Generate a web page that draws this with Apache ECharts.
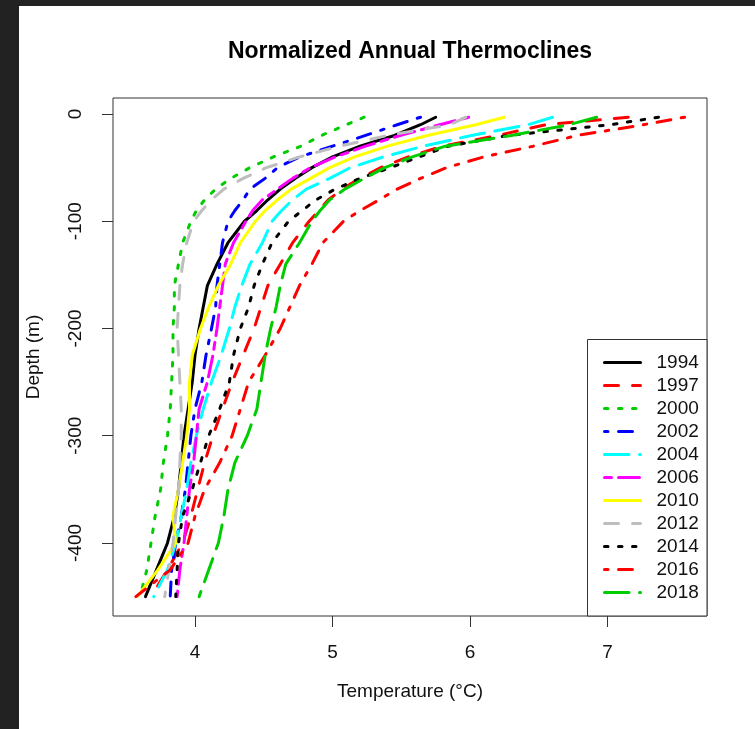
<!DOCTYPE html>
<html><head><meta charset="utf-8">
<script src="https://cdn.jsdelivr.net/npm/echarts@6/dist/echarts.min.js"></script>
<style>html,body{margin:0;padding:0;background:#fff}#c{width:755px;height:729px}</style>
</head><body><div id="c"></div>
<script>
// ---- data ----
const depths = [-3, -10, -20, -30, -40, -50, -60, -70, -80, -90, -100, -120, -140, -160, -180, -200, -225, -250, -275, -300, -325, -350, -375, -400, -425, -450];
const years = ['1994', '1997', '2000', '2002', '2004', '2006', '2010', '2012', '2014', '2016', '2018'];
const t1994 = [5.75, 5.64, 5.45, 5.20, 5.00, 4.85, 4.73, 4.62, 4.53, 4.45, 4.36, 4.24, 4.16, 4.09, 4.06, 4.03, 4.00, 3.98, 3.95, 3.92, 3.90, 3.88, 3.85, 3.80, 3.72, 3.64];
const t1997 = [7.15, 6.55, 6.20, 5.80, 5.55, 5.35, 5.20, 5.07, 4.97, 4.90, 4.83, 4.71, 4.62, 4.53, 4.48, 4.43, 4.35, 4.27, 4.20, 4.13, 4.07, 4.02, 3.97, 3.91, 3.80, 3.68];
const t2000 = [5.23, 5.10, 4.92, 4.77, 4.57, 4.40, 4.26, 4.15, 4.07, 4.01, 3.97, 3.91, 3.88, 3.85, 3.85, 3.84, 3.84, 3.83, 3.82, 3.80, 3.77, 3.75, 3.71, 3.68, 3.65, 3.60];
const t2002 = [5.64, 5.47, 5.24, 5.00, 4.76, 4.60, 4.51, 4.40, 4.35, 4.29, 4.24, 4.20, 4.18, 4.16, 4.15, 4.12, 4.08, 4.05, 4.00, 3.97, 3.95, 3.93, 3.90, 3.86, 3.83, 3.82];
const t2004 = [6.60, 6.42, 6.01, 5.66, 5.37, 5.13, 4.98, 4.81, 4.71, 4.63, 4.56, 4.49, 4.40, 4.34, 4.29, 4.25, 4.19, 4.12, 4.06, 4.01, 3.97, 3.94, 3.90, 3.86, 3.80, 3.70];
const t2006 = [5.99, 5.78, 5.49, 5.24, 5.02, 4.84, 4.71, 4.60, 4.49, 4.42, 4.37, 4.28, 4.22, 4.20, 4.18, 4.16, 4.13, 4.09, 4.03, 4.01, 3.99, 3.96, 3.94, 3.92, 3.89, 3.87];
const t2010 = [6.25, 6.04, 5.69, 5.40, 5.16, 4.98, 4.84, 4.70, 4.60, 4.51, 4.44, 4.33, 4.26, 4.17, 4.10, 4.04, 3.98, 3.96, 3.96, 3.94, 3.91, 3.88, 3.84, 3.86, 3.73, 3.58];
const t2012 = [5.97, 5.85, 5.40, 5.05, 4.76, 4.52, 4.35, 4.21, 4.12, 4.05, 3.99, 3.94, 3.91, 3.89, 3.88, 3.87, 3.88, 3.89, 3.90, 3.90, 3.89, 3.88, 3.86, 3.84, 3.81, 3.78];
const t2014 = [7.37, 7.02, 6.28, 5.84, 5.63, 5.42, 5.20, 5.02, 4.88, 4.78, 4.68, 4.56, 4.49, 4.43, 4.39, 4.33, 4.28, 4.25, 4.18, 4.10, 4.04, 3.98, 3.91, 3.88, 3.87, 3.86];
const t2016 = [7.56, 7.26, 6.78, 6.46, 6.10, 5.83, 5.64, 5.47, 5.34, 5.20, 5.08, 4.93, 4.85, 4.76, 4.69, 4.62, 4.51, 4.39, 4.33, 4.27, 4.18, 4.07, 4.00, 3.95, 3.82, 3.57];
const t2018 = [6.92, 6.72, 6.30, 5.82, 5.58, 5.38, 5.23, 5.09, 4.98, 4.91, 4.85, 4.76, 4.66, 4.62, 4.59, 4.55, 4.51, 4.48, 4.45, 4.38, 4.29, 4.24, 4.21, 4.17, 4.10, 4.03];
const xTicks = [4, 5, 6, 7];
const yTicks = [0, -100, -200, -300, -400];

// ---- styles ----
const temps = [t1994, t1997, t2000, t2002, t2004, t2006, t2010, t2012, t2014, t2016, t2018];
const colors = ['#000000', '#FF0000', '#00CD00', '#0000FF', '#00FFFF', '#FF00FF', '#FFFF00', '#BEBEBE', '#000000', '#FF0000', '#00CD00'];
const u = 3.5;
const dash = {
  solid: 'solid',
  dashed: [4 * u, 4 * u],
  dotted: [1 * u, 3 * u],
  dotdash: [1 * u, 3 * u, 4 * u, 3 * u],
  longdash: [7 * u, 3 * u],
  twodash: [2 * u, 2 * u, 6 * u, 2 * u]
};
const ltys = ['solid', 'dashed', 'dotted', 'dotdash', 'longdash', 'twodash', 'solid', 'dashed', 'dotted', 'dotdash', 'longdash'];
const FONT = "'Liberation Sans', Arial, Helvetica, sans-serif";

const chart = echarts.init(document.getElementById('c'), null, {renderer: 'canvas'});

const series = years.map((y, k) => ({
  name: y,
  type: 'line',
  data: depths.map((d, i) => [temps[k][i], d]),
  symbol: 'none',
  smooth: false,
  z: 3,
  lineStyle: {color: colors[k], width: 3, type: dash[ltys[k]], cap: 'round', join: 'round'},
  itemStyle: {color: colors[k]}
}));

chart.setOption({
  animation: false,
  backgroundColor: '#ffffff',
  grid: {left: 113, top: 98, width: 594, height: 518, show: true, borderColor: '#333', borderWidth: 1, containLabel: false},
  xAxis: {
    type: 'value', min: 3.4038, max: 7.7228, position: 'bottom',
    axisLine: {show: false, onZero: false}, splitLine: {show: false},
    axisTick: {show: true, customValues: xTicks, length: 11, lineStyle: {color: '#333', width: 1}},
    axisLabel: {customValues: xTicks, fontSize: 19, color: '#111', fontFamily: FONT, margin: 27},
    name: 'Temperature (°C)', nameLocation: 'middle', nameGap: 66,
    nameTextStyle: {fontSize: 19, color: '#111', fontFamily: FONT}
  },
  yAxis: {
    type: 'value', min: -468.07, max: 14.92, position: 'left',
    axisLine: {show: false, onZero: false}, splitLine: {show: false},
    axisTick: {show: true, customValues: yTicks, length: 11, lineStyle: {color: '#333', width: 1}},
    axisLabel: {customValues: yTicks, rotate: 90, fontSize: 19, color: '#111', fontFamily: FONT, margin: 28},
    name: 'Depth (m)', nameLocation: 'middle', nameRotate: 90, nameGap: 70,
    nameTextStyle: {fontSize: 19, color: '#111', fontFamily: FONT}
  },
  legend: {
    data: years, orient: 'vertical', left: 603, top: 353, padding: 0,
    itemWidth: 36, itemHeight: 14, itemGap: 4, selectedMode: false,
    lineStyle: {width: 3},
    itemStyle: {color: 'rgba(0,0,0,0)', borderColor: 'rgba(0,0,0,0)', borderWidth: 0},
    textStyle: {fontSize: 19, color: '#111', fontFamily: FONT, padding: [0, 0, 0, 11]}
  },
  graphic: [
    {type: 'rect', shape: {x: 0, y: 0, width: 755, height: 6}, style: {fill: '#222'}, z: 10},
    {type: 'rect', shape: {x: 0, y: 0, width: 19, height: 729}, style: {fill: '#222'}, z: 10},
    {type: 'rect', shape: {x: 587.5, y: 339.5, width: 119.5, height: 276.5}, style: {fill: '#fff', stroke: '#333', lineWidth: 1}, z: 1},
    {type: 'text', x: 410, y: 52, style: {text: 'Normalized Annual Thermoclines', font: 'bold 23px ' + FONT, fill: '#000', align: 'center', verticalAlign: 'middle'}, z: 10}
  ],
  series: series
});
</script></body></html>
